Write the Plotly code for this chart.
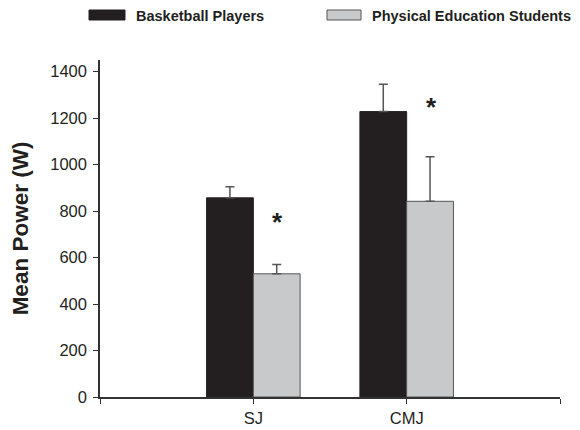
import plotly.graph_objects as go

categories = ["SJ", "CMJ"]
basketball = [857, 1228]
basketball_err = [48, 118]
pe_students = [530, 842]
pe_students_err = [40, 192]
series_names = ["Basketball Players", "Physical Education Students"]
y_ticks = [0, 200, 400, 600, 800, 1000, 1200, 1400]
star_y = [773, 1271]

W, H = 580, 430
ML, MR, MT, MB = 100, 20, 60, 33
PW, PH = W - ML - MR, H - MT - MB

def px_to_paper(px, py):
    return (px - ML) / PW, (H - MB - py) / PH

x_pos = [i + 1 for i in range(len(categories))]
FONT = "Liberation Sans, Arial, sans-serif"
TXT = "#231f20"

fig = go.Figure()
fig.add_trace(go.Bar(
    x=x_pos, y=basketball, name=series_names[0],
    marker=dict(color="#231f20", line=dict(color="#231f20", width=1)),
    error_y=dict(type="data", array=basketball_err, arrayminus=[0]*len(basketball),
                 symmetric=False, color="#555555", thickness=1.5, width=4.5),
    showlegend=False,
))
fig.add_trace(go.Bar(
    x=x_pos, y=pe_students, name=series_names[1],
    marker=dict(color="#c8c9cb", line=dict(color="#555555", width=1)),
    error_y=dict(type="data", array=pe_students_err, arrayminus=[0]*len(pe_students),
                 symmetric=False, color="#555555", thickness=1.5, width=4.5),
    showlegend=False,
))

# significance markers above the gray bars
for xi, ys in zip(x_pos, star_y):
    fig.add_annotation(x=xi + 0.16, y=ys, xref="x", yref="y", text="<b>*</b>",
                       showarrow=False, font=dict(family=FONT, size=26, color=TXT),
                       yanchor="middle", yshift=-5)

# custom legend
legend_items = [
    (series_names[0], "#231f20", "#231f20", 89, 125, 134),
    (series_names[1], "#c8c9cb", "#555555", 327, 361, 370),
]
for name, fill, line, x0, x1, tx in legend_items:
    a0, b0 = px_to_paper(x0, 20)
    a1, b1 = px_to_paper(x1, 10)
    fig.add_shape(type="rect", xref="paper", yref="paper", x0=a0, x1=a1, y0=b0, y1=b1,
                  fillcolor=fill, line=dict(color=line, width=1))
    ta, tb = px_to_paper(tx, 15.5)
    fig.add_annotation(x=ta, y=tb, xref="paper", yref="paper", text=f"<b>{name}</b>",
                       showarrow=False, xanchor="left", yanchor="middle",
                       font=dict(family=FONT, size=14.5, color=TXT))

fig.update_layout(
    width=W, height=H,
    margin=dict(l=ML, r=MR, t=MT, b=MB, pad=0),
    paper_bgcolor="white", plot_bgcolor="white",
    barmode="group", bargap=0.39, bargroupgap=0,
    font=dict(family=FONT, color=TXT),
)
fig.update_xaxes(
    range=[0, len(categories) + 1], tickmode="array",
    tickvals=[0] + x_pos + [len(categories) + 1],
    ticktext=[""] + categories + [""],
    showline=True, linecolor="#333333", linewidth=1.5,
    ticks="outside", ticklen=5, tickcolor="#333333", tickwidth=1.2,
    showgrid=False, zeroline=False,
    tickfont=dict(family=FONT, size=16.5, color=TXT),
    automargin=False,
)
fig.update_yaxes(
    range=[0, 1450], tickmode="array", tickvals=y_ticks,
    showline=True, linecolor="#333333", linewidth=1.5,
    ticks="outside", ticklen=5, tickcolor="#333333", tickwidth=1.2,
    ticklabelstandoff=3,
    showgrid=False, zeroline=False,
    tickfont=dict(family=FONT, size=16.5, color=TXT),
    title=dict(text="<b>Mean Power (W)</b>", font=dict(family=FONT, size=22.5, color=TXT), standoff=15),
    automargin=False,
)

fig.write_html("out.html", config={"displayModeBar": False},
               post_script="document.body.style.margin='0px';")
